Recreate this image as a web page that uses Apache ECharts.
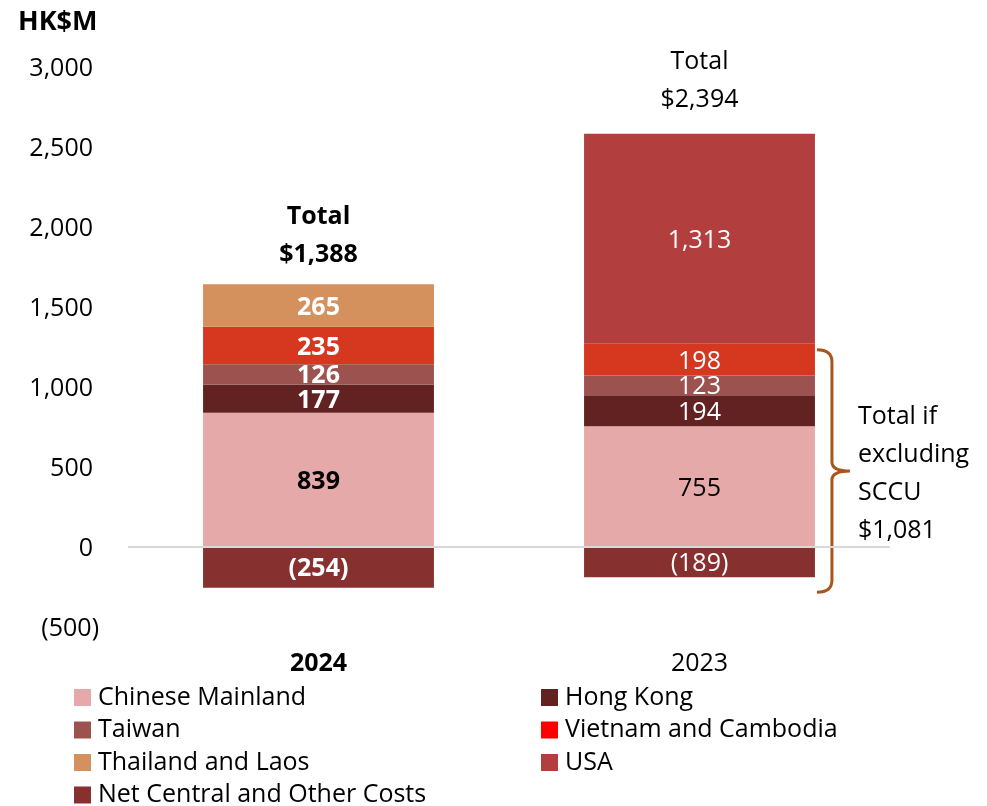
<!DOCTYPE html>
<html>
<head>
<meta charset="utf-8">
<script src="https://cdn.jsdelivr.net/npm/echarts@6/dist/echarts.min.js"></script>
<style>
  html, body { margin: 0; padding: 0; background: #fff; }
  #chart { width: 987px; height: 806px; }
</style>
</head>
<body>
<div id="chart"></div>
<script>
// Segment results by region, HK$M
const years = ['2024', '2023'];
const chineseMainland = [839, 755];
const hongKong = [177, 194];
const taiwan = [126, 123];
const vietnamCambodia = [235, 198];
const thailandLaos = [265, null];
const usa = [null, 1313];
const netCentral = [-254, -189];

// Value axis ticks
const yMin = -500;
const yMax = 3000;
const yStep = 500;

const FONT = '"Open Sans", sans-serif';

function fmt(v) {
  const s = Math.abs(v).toLocaleString('en-US');
  return v < 0 ? '(' + s + ')' : s;
}

const allSeries = [
  { name: 'Chinese Mainland', data: chineseMainland, color: '#E5A9A9', text: '#000' },
  { name: 'Hong Kong', data: hongKong, color: '#632222', text: '#fff' },
  { name: 'Taiwan', data: taiwan, color: '#9C524E', text: '#fff' },
  { name: 'Vietnam and Cambodia', data: vietnamCambodia, color: '#D6381F', text: '#fff' },
  { name: 'Thailand and Laos', data: thailandLaos, color: '#D4915E', text: '#fff' },
  { name: 'USA', data: usa, color: '#B33E3E', text: '#fff' },
  { name: 'Net Central and Other Costs', data: netCentral, color: '#873030', text: '#fff' }
];

// Totals per year
const totals = years.map((_, i) => allSeries.reduce((s, d) => s + (d.data[i] || 0), 0));
const positiveTop = years.map((_, i) => allSeries.reduce((s, d) => s + ((d.data[i] || 0) > 0 ? d.data[i] : 0), 0));

// Bracket span on the 2023 bar: everything except the USA (SCCU) segment
const exclTop = chineseMainland[1] + hongKong[1] + taiwan[1] + vietnamCambodia[1];
const exclBottom = netCentral[1];
const exclTotal = totals[1] - usa[1];

const BAR_RATIO = 0.606;

const barSeries = allSeries.map((d, idx) => ({
  name: d.name,
  type: 'bar',
  stack: 'total',
  barWidth: (BAR_RATIO * 100) + '%',
  itemStyle: { color: d.color },
  data: d.data.map((v, i) => ({
    value: v,
    label: { fontWeight: i === 0 ? 'bold' : 'normal' }
  })),
  label: {
    show: true,
    position: 'inside',
    offset: [0, 2],
    color: d.text,
    fontFamily: FONT,
    fontSize: 25,
    formatter: p => fmt(p.value)
  },
  markLine: idx === 0 ? {
    silent: true,
    symbol: 'none',
    animation: false,
    label: { show: false },
    lineStyle: { color: '#D9D9D9', width: 2, type: 'solid' },
    data: [{ yAxis: 0 }]
  } : undefined,
  emphasis: { disabled: true },
  animation: false
}));

const totalSeries = {
  name: 'totals',
  type: 'scatter',
  symbolSize: 0,
  silent: true,
  animation: false,
  itemStyle: { opacity: 1 },
  data: positiveTop.map((v, i) => ({
    value: v,
    label: {
      fontWeight: i === 0 ? 'bold' : 'normal',
      distance: i === 0 ? 10 : 15
    }
  })),
  label: {
    show: true,
    position: 'top',
    color: '#000',
    fontFamily: FONT,
    fontSize: 25,
    lineHeight: 38,
    align: 'center',
    formatter: p => 'Total\n$' + totals[p.dataIndex].toLocaleString('en-US')
  }
};

const bracketSeries = {
  name: 'bracket',
  type: 'custom',
  silent: true,
  clip: false,
  animation: false,
  data: [[1, exclTop, exclBottom]],
  renderItem: function (params, api) {
    const cx = api.coord([api.value(0), 0])[0];
    const band = api.size([1, 0])[0];
    const right = cx + band * BAR_RATIO / 2;
    const top = api.coord([1, api.value(1)])[1] + 6;
    const bot = api.coord([1, api.value(2)])[1] + 15;
    const mid = (top + bot) / 2;
    const tipX = right + 2;
    const spineX = right + 17;
    const pointX = right + 35;
    const path =
      'M' + tipX + ' ' + top +
      ' Q' + spineX + ' ' + top + ' ' + spineX + ' ' + (top + 12) +
      ' L' + spineX + ' ' + (mid - 9) +
      ' Q' + spineX + ' ' + mid + ' ' + pointX + ' ' + mid +
      ' Q' + spineX + ' ' + mid + ' ' + spineX + ' ' + (mid + 9) +
      ' L' + spineX + ' ' + (bot - 12) +
      ' Q' + spineX + ' ' + bot + ' ' + tipX + ' ' + bot;
    return {
      type: 'group',
      children: [
        {
          type: 'path',
          shape: { pathData: path },
          style: { stroke: '#A8561C', lineWidth: 3, fill: null }
        },
        {
          type: 'text',
          style: {
            x: pointX + 8,
            y: mid + 3,
            text: 'Total if\nexcluding\nSCCU\n$' + exclTotal.toLocaleString('en-US'),
            fill: '#000',
            font: '25px ' + FONT,
            lineHeight: 38,
            verticalAlign: 'middle',
            align: 'left'
          }
        }
      ]
    };
  }
};

const legendStyle = {
  orient: 'vertical',
  icon: 'rect',
  itemWidth: 17,
  itemHeight: 17,
  itemGap: 7.5,
  padding: 0,
  top: 685,
  height: 160,
  textStyle: { fontFamily: FONT, fontSize: 25, color: '#000', padding: [0, 0, 0, 2] },
  selectedMode: false
};

const chart = echarts.init(document.getElementById('chart'), null, { renderer: 'canvas' });
chart.setOption({
  backgroundColor: '#fff',
  animation: false,
  title: {
    text: 'HK$M',
    left: 18,
    top: 9,
    padding: 0,
    textStyle: { fontFamily: FONT, fontSize: 27, fontWeight: 'bold', color: '#000' }
  },
  grid: {
    left: 128,
    right: 97,
    top: 67,
    bottom: 179,
    containLabel: false,
    outerBoundsMode: 'none'
  },
  legend: [
    Object.assign({}, legendStyle, {
      left: 74,
      data: ['Chinese Mainland', 'Taiwan', 'Thailand and Laos', 'Net Central and Other Costs']
    }),
    Object.assign({}, legendStyle, {
      left: 541,
      data: ['Hong Kong', { name: 'Vietnam and Cambodia', itemStyle: { color: '#FF0000' } }, 'USA']
    })
  ],
  xAxis: {
    type: 'category',
    data: years,
    axisLine: { show: false, onZero: false },
    axisTick: { show: false },
    axisLabel: {
      margin: 24,
      fontFamily: FONT,
      fontSize: 25,
      color: '#000',
      formatter: (v, i) => i === 0 ? '{b|' + v + '}' : '{n|' + v + '}',
      rich: {
        b: { fontFamily: FONT, fontSize: 25, fontWeight: 'bold', color: '#000' },
        n: { fontFamily: FONT, fontSize: 25, color: '#000' }
      }
    },
    splitLine: { show: false }
  },
  yAxis: {
    type: 'value',
    min: yMin,
    max: yMax,
    interval: yStep,
    axisLine: { show: false },
    axisTick: { show: false },
    splitLine: { show: false },
    axisLabel: {
      margin: 29,
      fontFamily: FONT,
      fontSize: 25,
      color: '#000',
      formatter: v => v < 0 ? '{v|' + fmt(v) + '}' : '{v|' + fmt(v) + '}{p|}',
      rich: {
        v: { fontFamily: FONT, fontSize: 25, color: '#000', padding: [4, 0, 0, 0] },
        p: { width: 6 }
      }
    }
  },
  series: barSeries.concat([totalSeries, bracketSeries])
});
</script>
</body>
</html>
